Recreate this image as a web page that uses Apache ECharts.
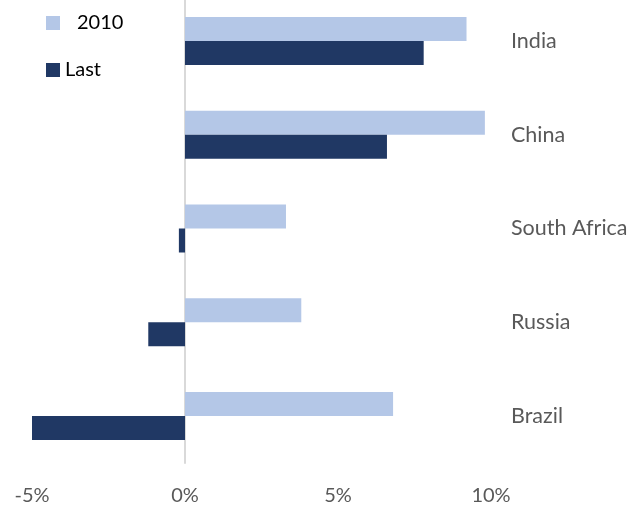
<!DOCTYPE html>
<html>
<head>
<meta charset="utf-8">
<script src="https://cdn.jsdelivr.net/npm/echarts@6/dist/echarts.min.js"></script>
<style>
  html, body { margin: 0; padding: 0; background: #fff; overflow: hidden; }
  /* the plot area starts slightly above the visible page edge */
  #chart { width: 643px; height: 512px; margin-top: -6px; }
</style>
</head>
<body>
<div id="chart"></div>
<script>
// Growth rates by country: 2010 versus latest reading (%)
const countries = ['India', 'China', 'South Africa', 'Russia', 'Brazil'];
const growth2010 = [9.2, 9.8, 3.3, 3.8, 6.8];
const growthLast = [7.8, 6.6, -0.2, -1.2, -5.0];
const xTicks = [-5, 0, 5, 10];

const FONT = 'Lato, "Open Sans", sans-serif';
const LIGHT = '#B4C7E7';
const DARK = '#203864';

const chart = echarts.init(document.getElementById('chart'), null, { renderer: 'canvas' });

chart.setOption({
  animation: false,
  backgroundColor: '#ffffff',
  textStyle: { fontFamily: FONT },
  legend: [
    {
      data: ['2010'],
      left: 41, top: 14,
      itemWidth: 14, itemHeight: 14,
      icon: 'rect',
      textStyle: { fontSize: 20, color: '#000000', fontFamily: FONT, padding: [0, 0, 0, 12] }
    },
    {
      data: ['Last'],
      left: 41, top: 61,
      itemWidth: 14, itemHeight: 14,
      icon: 'rect',
      textStyle: { fontSize: 20, color: '#000000', fontFamily: FONT }
    }
  ],
  grid: { left: 32, right: 152, top: 0, bottom: 42, containLabel: false },
  xAxis: {
    type: 'value',
    min: xTicks[0],
    max: xTicks[xTicks.length - 1],
    interval: 5,
    axisLine: { show: false },
    axisTick: { show: false },
    splitLine: { show: false },
    axisLabel: {
      margin: 23,
      fontSize: 20,
      color: '#595959',
      fontFamily: FONT,
      formatter: v => v + '%'
    }
  },
  yAxis: [
    {
      type: 'category',
      data: countries,
      inverse: true,
      axisLine: { onZero: true, lineStyle: { color: '#D9D9D9', width: 2 } },
      axisTick: { show: false },
      axisLabel: { show: false }
    },
    {
      type: 'category',
      data: countries,
      inverse: true,
      position: 'right',
      axisLine: { show: false },
      axisTick: { show: false },
      axisLabel: {
        margin: 20,
        fontSize: 21.5,
        color: '#595959',
        fontFamily: FONT,
        align: 'left'
      }
    }
  ],
  series: [
    {
      name: '2010',
      type: 'bar',
      data: growth2010,
      barWidth: 24,
      barGap: '0%',
      itemStyle: { color: LIGHT }
    },
    {
      name: 'Last',
      type: 'bar',
      data: growthLast,
      barWidth: 24,
      barGap: '0%',
      itemStyle: { color: DARK }
    }
  ]
});
</script>
</body>
</html>
